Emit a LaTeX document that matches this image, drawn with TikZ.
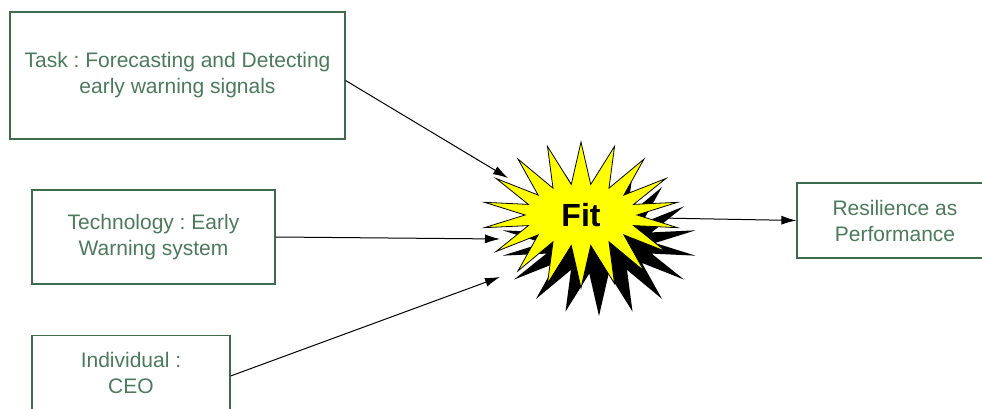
\documentclass[tikz,border=0pt]{standalone}
\usepackage{fontspec}
\setmainfont{Liberation Sans}
\frenchspacing
\usetikzlibrary{positioning,arrows.meta,shapes.symbols,shadows}

\definecolor{boxgreen}{HTML}{3E6B4C}
\definecolor{textgreen}{HTML}{4C7A5C}
\definecolor{fityellow}{HTML}{FFFF00}

\begin{document}
\begin{tikzpicture}[
    x=1pt, y=1pt,
    factor/.style={
      draw=boxgreen, line width=1.2pt, fill=white,
      text=textgreen, font=\fontsize{21}{26}\selectfont,
      align=center, inner sep=0pt
    },
    burst/.style={
      starburst, starburst points=18, starburst point height=42pt,
      random starburst=0, fill=fityellow, draw=black, line width=0.8pt,
      minimum width=196pt, minimum height=146pt,
      drop shadow={shadow xshift=18pt, shadow yshift=-28pt, fill=black, opacity=1},
      font=\fontsize{32}{34}\selectfont\bfseries
    },
    >={Latex[length=15pt,width=9pt]}
]
  \useasboundingbox (0,0) rectangle (982,409);
  \clip (0,0) rectangle (982,409);

  % the three factors
  \node[factor, minimum width=335pt, minimum height=127pt] (task) at (177.5,333.5)
    {Task : Forecasting and Detecting\\early warning signals};
  \node[factor, minimum width=243pt, minimum height=94pt] (tech) at (153.5,172)
    {Technology : Early\\Warning system};
  \node[factor, minimum width=198pt, minimum height=75pt] (indiv) at (131,36)
    {Individual :\\CEO};

  % the fit and the outcome
  \node[burst] (fit) at (581,194) {Fit};
  \node[factor, minimum width=196pt, minimum height=75pt] (resil) at (895,188.5)
    {Resilience as\\Performance};

  % ends of the arrows at the burst
  \coordinate (in1) at ([shift={(-73,37)}]fit.center);
  \coordinate (in2) at ([shift={(-81,-24)}]fit.center);
  \coordinate (in3) at ([shift={(-81,-62)}]fit.center);
  \coordinate (out) at ([shift={(78,-3)}]fit.center);

  % connections
  \draw[->, line width=1pt] ([yshift=-5pt]task.east) -- (in1);
  \draw[->, line width=1pt] (tech.east) -- (in2);
  \draw[->, line width=1pt] ([yshift=-3pt]indiv.east) -- (in3);
  \draw[->, line width=1pt] (out) -- (resil.west);

\end{tikzpicture}
\end{document}
